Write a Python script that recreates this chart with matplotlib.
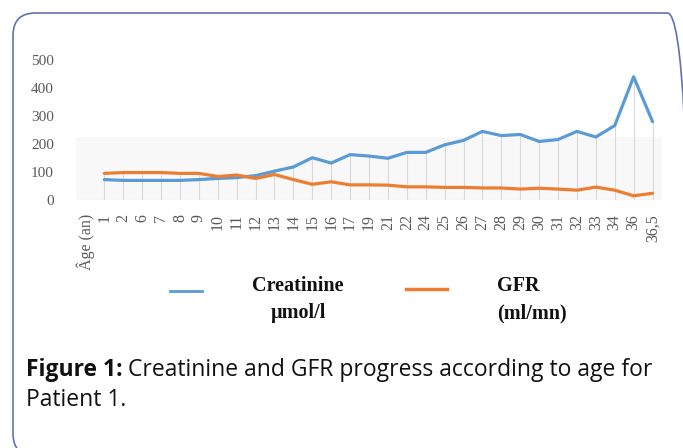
import matplotlib
matplotlib.use("Agg")
import matplotlib.pyplot as plt
from matplotlib.lines import Line2D
from matplotlib.patches import FancyBboxPatch

categories = ["Âge (an)", "1", "2", "6", "7", "8", "9", "10", "11", "12", "13", "14", "15", "16", "17",
              "19", "21", "22", "24", "25", "26", "27", "28", "29", "30", "31", "32", "33", "34", "36", "36,5"]
creatinine = [None, 73, 70, 70, 70, 70, 73, 77, 80, 87, 103, 118, 151, 132, 162,
              157, 149, 170, 170, 197, 213, 245, 230, 234, 209, 216, 245, 225, 266, 440, 280]
gfr = [None, 95, 98, 98, 98, 95, 95, 84, 89, 77, 91, 73, 56, 65, 54,
       54, 53, 47, 47, 45, 45, 43, 43, 39, 42, 39, 35, 46, 35, 15, 24]
yticks = [0, 100, 200, 300, 400, 500]

W, H = 683, 448
fig = plt.figure(figsize=(W / 100, H / 100), dpi=100)

def fx(px):
    return px / W

def fy(py):
    return 1 - py / H

# rounded frame
frame = FancyBboxPatch((fx(13), fy(456)), fx(690) - fx(13), fy(13) - fy(456),
                       boxstyle="round,pad=0,rounding_size=0.033",
                       transform=fig.transFigure, fill=False,
                       edgecolor="#6470b4", linewidth=1.2, mutation_aspect=W / H)
fig.patches.append(frame)

ax = fig.add_axes([fx(76), fy(200), fx(662) - fx(76), fy(60) - fy(200)])
x = list(range(len(categories)))
xs = [i for i in x if creatinine[i] is not None]
cre = [creatinine[i] for i in xs]
gf = [gfr[i] for i in xs]

ax.axhspan(0, 225, color="#f8f8f8", zorder=0, lw=0)
for i, c, g in zip(xs, cre, gf):
    ax.plot([i, i], [0, max(c, g)], color="#d9d9d9", lw=0.8, zorder=1)
ax.axhline(0, color="#d9d9d9", lw=0.8, zorder=1)

ax.plot(xs, cre, color="#5b9bd5", lw=2.3, zorder=3, solid_capstyle="round", solid_joinstyle="round")
ax.plot(xs, gf, color="#ed7d31", lw=2.3, zorder=3, solid_capstyle="round", solid_joinstyle="round")

ax.set_xlim(-0.5, len(categories) - 0.5)
ax.set_ylim(0, 500)
ax.set_yticks(yticks)
ax.set_yticklabels([str(v) for v in yticks], family="Liberation Serif", fontsize=11, color="#595959")
ax.set_xticks(x)
ax.set_xticklabels(categories, rotation=90, family="Liberation Serif", fontsize=11.5, color="#595959")
ax.tick_params(axis="y", length=0, pad=16)
ax.tick_params(axis="x", length=0, pad=10)
for s in ax.spines.values():
    s.set_visible(False)
ax.patch.set_visible(False)

# legend (manual)
fig.add_artist(Line2D([fx(170), fx(202)], [fy(291), fy(291)], color="#5b9bd5", lw=2, transform=fig.transFigure))
fig.add_artist(Line2D([fx(406), fx(447)], [fy(289), fy(289)], color="#ed7d31", lw=2.5, transform=fig.transFigure))
lk = dict(family="Liberation Serif", fontweight="bold", fontsize=14.5, color="#111111", va="center")
fig.text(fx(298), fy(286), "Creatinine", ha="center", **lk)
fig.text(fx(298), fy(313), "µmol/l", ha="center", **lk)
fig.text(fx(497), fy(286), "GFR", ha="left", **lk)
fig.text(fx(497), fy(313), "(ml/mn)", ha="left", **lk)

# caption
cap = dict(family="Open Sans", fontsize=16.5, color="#111111", va="baseline")
t1 = fig.text(fx(26), fy(376), "Figure 1:", fontweight="bold", ha="left", **cap)
fig.canvas.draw()
bb = t1.get_window_extent()
fig.text(bb.x1 / W + fx(5), fy(376), "Creatinine and GFR progress according to age for", ha="left", **cap)
fig.text(fx(26), fy(406), "Patient 1.", ha="left", **cap)

fig.savefig("out.png", dpi=100)
